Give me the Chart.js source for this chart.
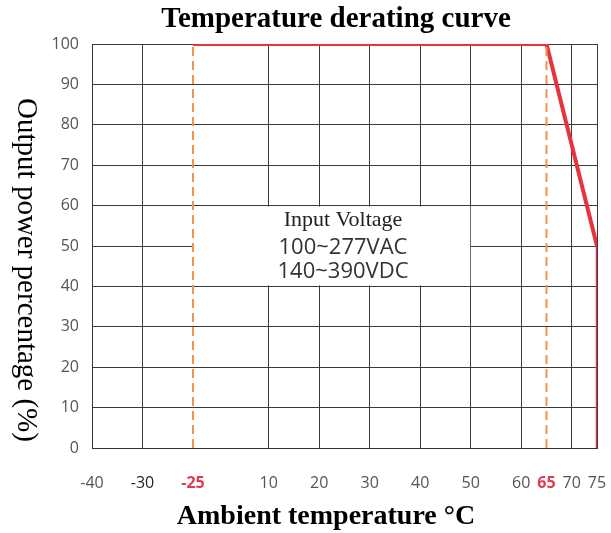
<!DOCTYPE html>
<html>
<head>
<meta charset="utf-8">
<script src="https://cdn.jsdelivr.net/npm/chart.js@4.4.0/dist/chart.umd.min.js"></script>
<style>
html, body { margin:0; padding:0; background:#fff; }
</style>
</head>
<body>
<canvas id="myChart" width="611" height="533"></canvas>
<script>
// x tick labels (deg C) and y tick labels (%)
var tickTemps = [-40, -30, -25, 10, 20, 30, 40, 50, 60, 65, 70, 75]
var powerTicks = [0, 10, 20, 30, 40, 50, 60, 70, 80, 90, 100]

// derating curve
var curveTemps = [-25, 65, 75, 75]
var curvePower = [100, 100, 50, 0]

// dashed marker lines at the derating limits
var markerTemps = [-25, 65]
var markerPower = [0, 100]

// note in the middle of the plot
var noteLines = ['Input Voltage', '100~277VAC', '140~390VDC']
var noteFrom = -25, noteTo = 50, noteTop = 60, noteBottom = 40

var chartTitle = 'Temperature derating curve'
var xTitle = 'Ambient temperature °C'
var yTitle = 'Output power percentage (%)'

// the drawing's x axis is broken: map a temperature onto an even "slot" axis
function toSlot(t){
    if (t <= -30) return t + 40
    if (t <= -25) return 10 + (t + 30) * 2
    if (t <= 10) return 20 + (t + 25) * 15 / 35
    return t + 25
}

function points(xs, ys){
    return xs.map((x, i) => ({x: toSlot(x), y: ys[i]}))
}

var sans = "'Open Sans', 'DejaVu Sans', sans-serif"
var serif = "'Liberation Serif', 'DejaVu Serif', serif"

var textPlugin = {
    id: 'texts',
    beforeDatasetsDraw(chart){
        // white box over the grid behind the note
        let c = chart.ctx, xs = chart.scales.x, ys = chart.scales.y
        let l = xs.getPixelForValue(toSlot(noteFrom)), r = xs.getPixelForValue(toSlot(noteTo))
        let t = ys.getPixelForValue(noteTop), b = ys.getPixelForValue(noteBottom)
        c.save()
        c.fillStyle = '#fff'
        c.fillRect(l, t + 1, r - l - 0.5, b - t - 2)
        c.restore()
    },
    afterDatasetsDraw(chart){
        let c = chart.ctx
        c.save()
        c.textAlign = 'center'
        c.textBaseline = 'middle'
        c.fillStyle = '#222'
        c.font = '22px ' + serif
        c.fillText(noteLines[0], 343, 220)
        c.fillStyle = '#333'
        c.font = '22px ' + sans
        c.fillText(noteLines[1], 343, 248)
        c.fillText(noteLines[2], 343, 272)

        // titles
        c.fillStyle = '#000'
        c.font = 'bold 29px ' + serif
        c.fillText(chartTitle, 336, 20)
        c.font = 'bold 28px ' + serif
        c.fillText(xTitle, 326, 517)
        c.font = '29px ' + serif
        c.translate(26, 270)
        c.rotate(Math.PI / 2)
        c.fillText(yTitle, 0, 0)
        c.restore()
    }
}

var ctx = document.getElementById('myChart')
var myChart = new Chart(ctx, {
    type: 'line',
    data: {
        datasets: [
            {
                data: points([markerTemps[0], markerTemps[0]], markerPower),
                borderColor: '#f0964a',
                borderWidth: 2,
                borderDash: [9, 5],
                pointRadius: 0
            },
            {
                data: points([markerTemps[1], markerTemps[1]], markerPower),
                borderColor: '#f0964a',
                borderWidth: 2,
                borderDash: [9, 5],
                pointRadius: 0
            },
            {
                data: points(curveTemps, curvePower),
                borderColor: '#e8323c',
                borderWidth: 4,
                pointRadius: 0,
                segment: {
                    borderWidth: c => c.p1DataIndex === 3 ? 2.5 : 4
                }
            }
        ]
    },
    plugins: [textPlugin],
    options: {
        responsive: false,
        animation: false,
        layout: { padding: { left: 40, right: 14, top: 44, bottom: 0 } },
        plugins: {
            legend: { display: false },
            tooltip: { enabled: false }
        },
        scales: {
            x: {
                type: 'linear',
                min: 0,
                max: 100,
                afterBuildTicks: s => { s.ticks = tickTemps.map(t => ({value: toSlot(t)})) },
                afterFit: s => { s.height = 85; s.paddingLeft = 0; s.paddingRight = 0 },
                ticks: {
                    autoSkip: false,
                    maxRotation: 0,
                    padding: 26,
                    callback: (v, i) => tickTemps[i],
                    color: c => markerTemps.includes(tickTemps[c.index]) ? '#e03a4e' : (tickTemps[c.index] === -30 ? '#222' : '#555'),
                    font: c => ({
                        family: sans,
                        size: 16,
                        weight: markerTemps.includes(tickTemps[c.index]) ? 'bold' : 'normal'
                    })
                },
                grid: {
                    drawTicks: false,
                    color: c => markerTemps.includes(tickTemps[c.index]) ? 'rgba(0,0,0,0)' : '#3a3a3a'
                },
                border: { color: '#333' }
            },
            y: {
                min: 0,
                max: 100,
                afterBuildTicks: s => { s.ticks = powerTicks.map(v => ({value: v})) },
                afterFit: s => { s.width = 52; s.paddingTop = 0; s.paddingBottom = 0 },
                ticks: {
                    padding: 13,
                    color: '#555',
                    font: { family: sans, size: 16 }
                },
                grid: { drawTicks: false, color: '#3a3a3a' },
                border: { color: '#333' }
            }
        }
    }
})
</script>
</body>
</html>
